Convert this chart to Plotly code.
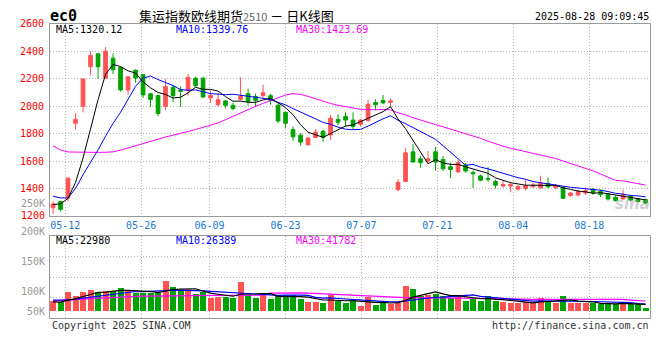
import plotly.graph_objects as go
import pandas as pd

# ---------------- data ----------------
dates = ["05-08", "05-09", "05-12", "05-13", "05-14", "05-15", "05-16", "05-19", "05-20", "05-21",
         "05-22", "05-23", "05-26", "05-27", "05-28", "05-29", "05-30", "06-03", "06-04", "06-05",
         "06-06", "06-09", "06-10", "06-11", "06-12", "06-13", "06-16", "06-17", "06-18", "06-19",
         "06-20", "06-23", "06-24", "06-25", "06-26", "06-27", "06-30", "07-01", "07-02", "07-03",
         "07-04", "07-07", "07-08", "07-09", "07-10", "07-11", "07-14", "07-15", "07-16", "07-17",
         "07-18", "07-21", "07-22", "07-23", "07-24", "07-25", "07-28", "07-29", "07-30", "07-31",
         "08-01", "08-04", "08-05", "08-06", "08-07", "08-08", "08-11", "08-12", "08-13", "08-14",
         "08-15", "08-18", "08-19", "08-20", "08-21", "08-22", "08-25", "08-26", "08-27", "08-28"]

opens = [1261, 1308, 1333, 1876, 1999, 2287, 2381, 2203, 2349, 2282,
         2118, 2262, 2229, 2090, 2077, 1999, 2138, 2118, 2113, 2203,
         2203, 2060, 2011, 2038, 2006, 2050, 2091, 2071, 2078, 2076,
         2006, 1955, 1830, 1789, 1719, 1773, 1818, 1791, 1904, 1926,
         1899, 1868, 1895, 2026, 2042, 2028, 1393, 1453, 1668, 1617,
         1601, 1668, 1612, 1560, 1522, 1572, 1517, 1493, 1474, 1453,
         1419, 1419, 1397, 1402, 1414, 1405, 1438, 1410, 1410, 1350,
         1354, 1369, 1397, 1379, 1361, 1338, 1325, 1345, 1325, 1321]
highs = [1307, 1311, 1478, 1948, 2200, 2400, 2385, 2429, 2384, 2286,
         2216, 2266, 2234, 2092, 2082, 2198, 2149, 2142, 2234, 2214,
         2214, 2113, 2096, 2042, 2024, 2210, 2126, 2091, 2157, 2091,
         2019, 1960, 1852, 1804, 1778, 1832, 1827, 1935, 1940, 1955,
         1955, 1906, 2047, 2050, 2082, 2055, 1469, 1697, 1724, 1637,
         1673, 1704, 1637, 1589, 1608, 1589, 1533, 1504, 1557, 1465,
         1458, 1446, 1426, 1469, 1446, 1494, 1482, 1434, 1417, 1376,
         1393, 1410, 1405, 1393, 1369, 1350, 1393, 1357, 1333, 1328]
lows = [1218, 1234, 1308, 1832, 1955, 2228, 2198, 2199, 2234, 2106,
        2082, 2171, 2060, 1995, 1927, 1970, 2031, 1995, 2077, 2138,
        2060, 2024, 1999, 1983, 1970, 2042, 2006, 1995, 2062, 2011,
        1876, 1840, 1748, 1712, 1712, 1768, 1741, 1755, 1861, 1852,
        1835, 1852, 1888, 1970, 2014, 1990, 1381, 1451, 1589, 1553,
        1589, 1529, 1529, 1476, 1517, 1517, 1405, 1453, 1451, 1402,
        1408, 1374, 1388, 1386, 1410, 1402, 1402, 1398, 1326, 1342,
        1345, 1354, 1357, 1338, 1314, 1306, 1321, 1309, 1302, 1290]
closes = [1289, 1250, 1477, 1904, 2198, 2369, 2287, 2400, 2265, 2118,
          2214, 2205, 2082, 2049, 1947, 2142, 2077, 2109, 2210, 2149,
          2067, 2077, 2047, 2006, 1983, 2071, 2035, 2042, 2098, 2042,
          1892, 1876, 1777, 1739, 1768, 1811, 1773, 1912, 1883, 1899,
          1852, 1899, 2014, 2011, 2024, 2038, 1446, 1661, 1594, 1589,
          1617, 1594, 1545, 1540, 1589, 1529, 1509, 1462, 1469, 1426,
          1431, 1431, 1417, 1422, 1426, 1441, 1414, 1422, 1330, 1369,
          1379, 1386, 1369, 1357, 1325, 1314, 1357, 1318, 1307, 1297]
volumes = [37500, 34000, 69000, 55000, 69000, 76000, 69000, 72500, 72000, 83000,
           76000, 64500, 64500, 64500, 64500, 107500, 87500, 72500, 72500, 61000,
           69000, 49000, 52500, 51500, 47000, 104000, 57500, 49000, 58500, 44500,
           57500, 57500, 57500, 45500, 34000, 34000, 31500, 57500, 37500, 28000,
           37500, 20000, 51500, 23500, 28000, 26000, 28000, 90000, 80500, 55000,
           58500, 61000, 55000, 49000, 55000, 37500, 45500, 37500, 55000, 37500,
           34000, 28000, 28000, 34000, 28000, 49000, 37500, 31500, 55000, 31500,
           28000, 28000, 28000, 26000, 26000, 26000, 35000, 26000, 26000, 10500]

# moving-average values before the first full window
ma5_head = [1285, 1290, 1330, 1446]
ma10_head = [1345, 1333, 1333, 1402, 1502, 1588, 1682, 1782, 1875]
ma30_head = [1712, 1682, 1667, 1665, 1664, 1664, 1664, 1665, 1668, 1680,
             1697, 1713, 1727, 1745, 1760, 1776, 1788, 1803, 1816, 1831,
             1845, 1860, 1878, 1902, 1927, 1952, 1977, 1999, 2020]
vma5_head = [34000, 33000, 40000, 44500]
vma10_head = [39900, 39900, 41000, 43400, 46900, 50400, 53900, 57400, 60200]
vma30_head = [37500, 38500, 40000, 42000, 43500, 45500, 47000, 49000, 50500, 51500,
              52500, 53500, 54000, 54500, 55000, 55000, 55500, 55500, 56000, 56000,
              56000, 56500, 56500, 56500, 57000, 57000, 57000, 57500, 57500]

tick_dates = ["05-12", "05-26", "06-09", "06-23", "07-07", "07-21", "08-04", "08-18"]
price_ticks = [1200, 1400, 1600, 1800, 2000, 2200, 2400, 2600]
vol_labels = ["250K", "200K", "150K", "100K", "50K"]

title_name = "集运指数欧线期货"
title_code = "2510"
title_tail = " － 日K线图"
symbol = "ec0"
timestamp = "2025-08-28 09:09:45"
ma_price_labels = ["MA5:1320.12", "MA10:1339.76", "MA30:1423.69"]
ma_vol_labels = ["MA5:22980", "MA10:26389", "MA30:41782"]

# ---------------- derived series ----------------
n = len(dates)
xs = list(range(n))
c = pd.Series(closes, dtype=float)
v = pd.Series(volumes, dtype=float)


def with_head(series, win, head):
    r = series.rolling(win).mean().tolist()
    return list(head) + r[len(head):]


ma5 = with_head(c, 5, ma5_head)
ma10 = with_head(c, 10, ma10_head)
ma30 = with_head(c, 30, ma30_head)
vma5 = with_head(v, 5, vma5_head)
vma10 = with_head(v, 10, vma10_head)
vma30 = with_head(v, 30, vma30_head)

# ---------------- geometry / styles ----------------
W, H = 660, 360
LEFT, RIGHT = 50, 650
STEP = 7.5
X0 = 53.05  # pixel of first candle centre
P_TOP, P_BOT = 18.9, 214.2  # pixel rows of 2600 and 1200


def px2x(px):
    return (px - X0) / STEP


def py(p):
    return 1 - p / H


grid_x = [px2x(LEFT + dates.index(d) * (RIGHT - LEFT) / (n - 1)) for d in tick_dates]

RED = "#ff5252"
GREEN = "#00a400"
MONO = "DejaVu Sans Mono"
GRIDC = "#b4b4b4"
DASH = "1px,2px"

fig = go.Figure()

fig.add_trace(go.Candlestick(
    x=xs, open=opens, high=highs, low=lows, close=closes,
    increasing=dict(line=dict(color=RED, width=1), fillcolor=RED),
    decreasing=dict(line=dict(color=GREEN, width=1), fillcolor=GREEN),
    whiskerwidth=0, xaxis="x", yaxis="y", hoverinfo="skip"))

for ys, col in [(ma30, "#ff00ff"), (ma10, "#0000ff"), (ma5, "#000000")]:
    fig.add_trace(go.Scatter(x=xs, y=ys, mode="lines", line=dict(color=col, width=1),
                             xaxis="x", yaxis="y", hoverinfo="skip"))

bar_colors = [RED if cl >= op else GREEN for op, cl in zip(opens, closes)]
fig.add_trace(go.Bar(x=xs, y=volumes, marker=dict(color=bar_colors, line=dict(width=0)),
                     width=0.8, xaxis="x2", yaxis="y2", hoverinfo="skip"))

for ys, col in [(vma30, "#ff00ff"), (vma10, "#0000ff"), (vma5, "#000000")]:
    fig.add_trace(go.Scatter(x=xs, y=ys, mode="lines", line=dict(color=col, width=1.2),
                             xaxis="x2", yaxis="y2", hoverinfo="skip"))

# volume axis: bar base (0) at pixel 310.7, 3500 per pixel
VB, VS = 310.7, 3500.0
vtop, vbot = 234.3, 317.7
vol_range = [-(vbot - VB) * VS, (VB - vtop) * VS]
vol_grid = [(VB - (vtop + k * (vbot - vtop) / 4)) * VS for k in (1, 2, 3)]

axis_common = dict(showline=True, linecolor="#9a9a9a", linewidth=1, mirror=True,
                   showgrid=True, gridcolor=GRIDC, gridwidth=1, griddash=DASH,
                   zeroline=False, ticks="", fixedrange=True)

fig.update_layout(
    width=W, height=H, margin=dict(l=0, r=0, t=0, b=0),
    paper_bgcolor="white", plot_bgcolor="white", showlegend=False,
    hovermode=False, bargap=0,
    xaxis=dict(domain=[LEFT / W, RIGHT / W], range=[px2x(LEFT), px2x(RIGHT)],
               tickmode="array", tickvals=grid_x, ticktext=tick_dates,
               tickfont=dict(family=MONO, size=10, color="#1a7ad4"),
               rangeslider=dict(visible=False), anchor="y", **axis_common),
    yaxis=dict(domain=[py(P_BOT), py(P_TOP)], range=[price_ticks[0], price_ticks[-1]],
               tickmode="array", tickvals=price_ticks[1:],
               tickfont=dict(family=MONO, size=10, color="#ff0000"),
               ticklabelstandoff=3, anchor="x", **axis_common),
    xaxis2=dict(domain=[LEFT / W, RIGHT / W], range=[px2x(LEFT), px2x(RIGHT)],
                tickmode="array", tickvals=grid_x, showticklabels=False,
                anchor="y2", **axis_common),
    yaxis2=dict(domain=[py(vbot), py(vtop)], range=vol_range,
                tickmode="array", tickvals=vol_grid, showticklabels=False,
                anchor="x2", **axis_common),
)

ann = []


def text(x, y, s, size=10, color="#000", anchor="left", family=MONO, bold=False):
    if bold:
        s = "<b>" + s + "</b>"
    ann.append(dict(x=x / W, y=py(y), xref="paper", yref="paper", text=s, showarrow=False,
                    xanchor=anchor, yanchor="middle",
                    font=dict(family=family, size=size, color=color)))


text(48, 11, symbol, size=15, bold=True)
text(236, 11, title_name + "<span style='font-size:11px;color:#666666'>" + title_code +
     "</span>" + title_tail, size=13, anchor="center", family="Noto Sans CJK SC")
text(651, 12, timestamp, size=10, anchor="right")

# bottom price label (the lowest tick sits on the frame edge)
text(47, P_BOT - 0.5, str(price_ticks[0]), color="#ff0000", anchor="right")

ma_cols = ["#000000", "#0000ff", "#ff00ff"]
for lbl, xp, col in zip(ma_price_labels, [54, 174, 294], ma_cols):
    text(xp, 25, lbl, color=col)
for lbl, xp, col in zip(ma_vol_labels, [54, 174, 294], ma_cols):
    text(xp, 239, lbl, color=col)

for lbl, yp in zip(vol_labels, [201, 230, 260, 291, 310.7]):
    text(47, yp, lbl, color="#999999", anchor="right")

text(50, 325, "Copyright 2025 SINA.COM", color="#333333")
text(651, 325, "http://finance.sina.com.cn", color="#333333", anchor="right")
text(632, 202, "<i><b>sina</b></i>", size=15, color="rgba(150,150,150,0.45)",
     anchor="center", family="DejaVu Sans")

fig.update_layout(annotations=ann)
fig.write_html("out.html", config={"displayModeBar": False, "staticPlot": True},
               post_script="document.body.style.margin='0';document.body.style.padding='0';"
                           "document.body.style.overflow='hidden';")
